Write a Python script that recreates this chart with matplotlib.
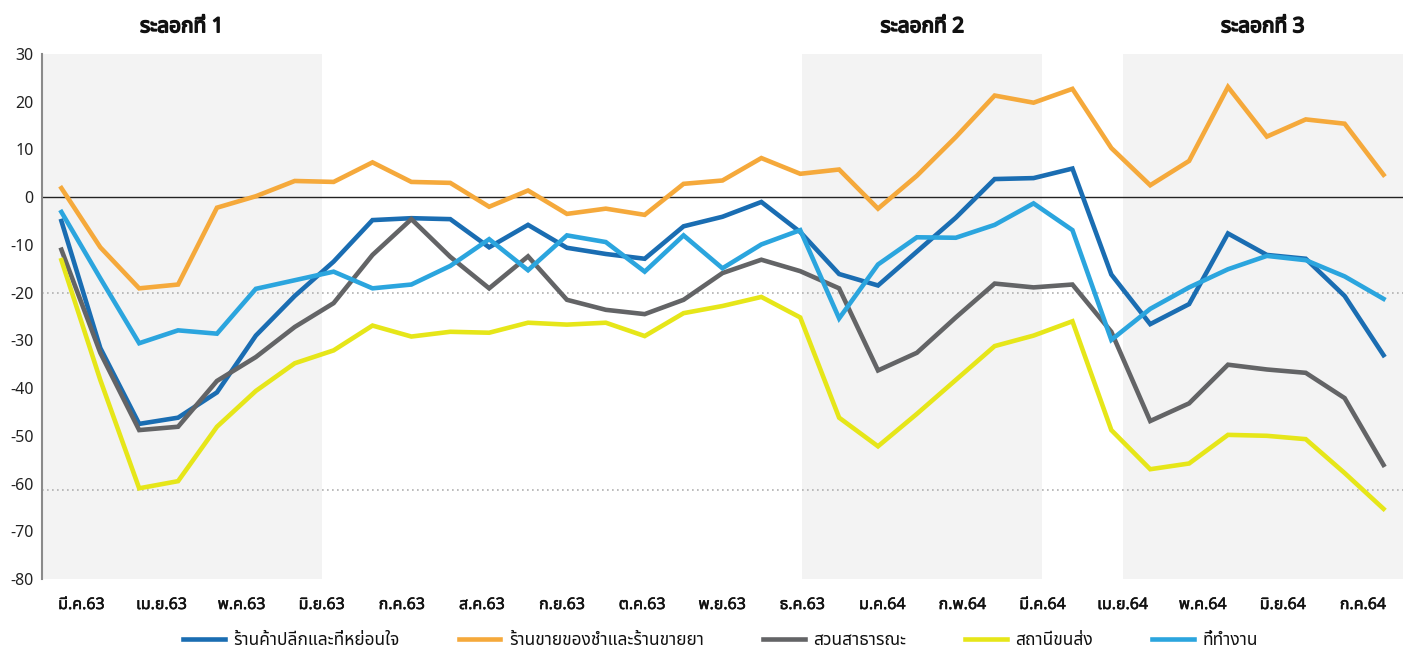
import numpy as np
import matplotlib
matplotlib.use('Agg')
import matplotlib.pyplot as plt
import matplotlib.transforms as mtransforms
import matplotlib.patheffects as pe
from matplotlib import font_manager
from matplotlib.ft2font import FT2Font

# Thai needs a font with Thai glyphs; look for one among the installed fonts
def find_thai_family():
    found = []
    for f in font_manager.fontManager.ttflist:
        try:
            if ord('\u0e01') in FT2Font(f.fname).get_charmap():
                found.append(f.name)
        except Exception:
            pass
    for pref in ['Noto Sans Thai', 'Noto Sans Thai UI', 'Loma', 'Garuda', 'Sarabun', 'Tlwg Typo']:
        if pref in found:
            return pref
    return found[0] if found else None

thai = find_thai_family()
plt.rcParams['font.family'] = [thai, 'DejaVu Sans'] if thai else ['DejaVu Sans']

#%% data (half-monthly, Mar 2020 - Jul 2021, % change from baseline)
months = ['มี.ค.63', 'เม.ย.63', 'พ.ค.63', 'มิ.ย.63', 'ก.ค.63', 'ส.ค.63', 'ก.ย.63', 'ต.ค.63',
          'พ.ย.63', 'ธ.ค.63', 'ม.ค.64', 'ก.พ.64', 'มี.ค.64', 'เม.ย.64', 'พ.ค.64', 'มิ.ย.64', 'ก.ค.64']

retail = [-5.0, -31.6, -47.5, -46.2, -40.9, -29.0, -20.7, -13.5, -4.8, -4.4, -4.6, -10.5,
          -5.8, -10.6, -11.9, -12.9, -6.1, -4.1, -1.0, -7.3, -16.1, -18.5, -11.4, -4.3,
          3.8, 4.0, 6.0, -16.2, -26.6, -22.4, -7.6, -12.1, -12.9, -20.7, -33.1]
grocery = [1.9, -10.5, -19.1, -18.3, -2.2, 0.2, 3.4, 3.2, 7.3, 3.2, 3.0, -2.0,
           1.4, -3.5, -2.4, -3.7, 2.8, 3.5, 8.2, 4.9, 5.8, -2.4, 4.5, 12.6,
           21.3, 19.8, 22.7, 10.3, 2.5, 7.6, 23.1, 12.7, 16.3, 15.4, 4.7]
parks = [-11.0, -32.6, -48.8, -48.1, -38.5, -33.5, -27.2, -22.2, -12.1, -4.6, -12.5, -19.1,
         -12.4, -21.5, -23.6, -24.5, -21.5, -15.9, -13.1, -15.5, -19.1, -36.3, -32.6, -25.2,
         -18.1, -18.9, -18.3, -28.2, -46.9, -43.2, -35.1, -36.1, -36.8, -42.1, -56.1]
transit = [-13.2, -38.3, -61.0, -59.5, -48.1, -40.6, -34.8, -32.1, -26.9, -29.2, -28.2, -28.4,
           -26.3, -26.7, -26.3, -29.1, -24.3, -22.8, -20.9, -25.2, -46.2, -52.2, -45.4, -38.3,
           -31.2, -29.0, -26.0, -48.8, -57.0, -55.8, -49.8, -50.0, -50.7, -57.8, -65.3]
workplace = [-3.1, -17.0, -30.6, -27.9, -28.6, -19.2, -17.4, -15.6, -19.1, -18.3, -14.4, -8.8,
             -15.3, -8.0, -9.4, -15.6, -8.0, -14.9, -9.9, -6.9, -25.4, -14.1, -8.4, -8.5,
             -5.8, -1.3, -6.9, -29.9, -23.4, -18.9, -15.1, -12.3, -13.2, -16.6, -21.3]

series = [
    ('ร้านค้าปลีกและที่หย่อนใจ', retail, '#1a6db2'),
    ('ร้านขายของชำและร้านขายยา', grocery, '#f5a93b'),
    ('สวนสาธารณะ', parks, '#636466'),
    ('สถานีขนส่ง', transit, '#e6e619'),
    ('ที่ทำงาน', workplace, '#2ba5de'),
]
waves = ['ระลอกที่ 1', 'ระลอกที่ 2', 'ระลอกที่ 3']
ref_lines = [-20, -61.3]

#%% plot
x = np.arange(len(retail))
month_pos = np.linspace(0.51, 33.47, len(months))
x_lo, x_hi = -0.5, len(retail) - 0.5

fig = plt.figure(figsize=(14.13, 6.54), dpi=100)
ax = fig.add_axes([0.0297, 0.1147, 0.9632, 0.8027])

spans = [(x_lo, month_pos[3]), (month_pos[9], month_pos[12]), (month_pos[13], x_hi)]
trans = mtransforms.blended_transform_factory(ax.transData, ax.transAxes)
bold = [pe.withStroke(linewidth=1.1, foreground='#111111')]
for (a, b), name in zip(spans, waves):
    ax.axvspan(a, b, color='#f3f3f3', lw=0, zorder=0)
    ax.text((a + b) / 2, 1.052, name, transform=trans, ha='center', va='center',
            fontsize=15, fontweight='bold', color='#111111', path_effects=bold)

for v in ref_lines:
    ax.axhline(v, color='#b0b0b0', lw=1.2, ls=(0, (1, 2)), zorder=1)
ax.axhline(0, color='#222222', lw=1.0, zorder=2)

for name, vals, col in series:
    ax.plot(x, vals, color=col, lw=3.3, label=name, zorder=3, solid_joinstyle='miter')

ax.set_xlim(x_lo, x_hi)
ax.set_ylim(-80, 30)
ax.set_yticks(range(-80, 31, 10))
ax.set_xticks(month_pos)
ax.set_xticklabels(months)
ax.tick_params(axis='y', length=0, pad=6, labelsize=11.5, labelcolor='#222222')
ax.tick_params(axis='x', length=0, pad=13, labelsize=11.5, labelcolor='#111111')
for lab in ax.get_xticklabels():
    lab.set_path_effects([pe.withStroke(linewidth=0.4, foreground='#111111')])

for s in ['top', 'right', 'bottom']:
    ax.spines[s].set_visible(False)
ax.spines['left'].set_color('#8a8a8a')
ax.spines['left'].set_linewidth(1.5)

leg = fig.legend(loc='center', bbox_to_anchor=(0.51, 0.022), ncol=5, frameon=False,
                 fontsize=12.5, handlelength=2.4, handletextpad=0.5, columnspacing=3.4)
for t in leg.get_texts():
    t.set_color('#111111')

fig.savefig('out.png', dpi=100)
